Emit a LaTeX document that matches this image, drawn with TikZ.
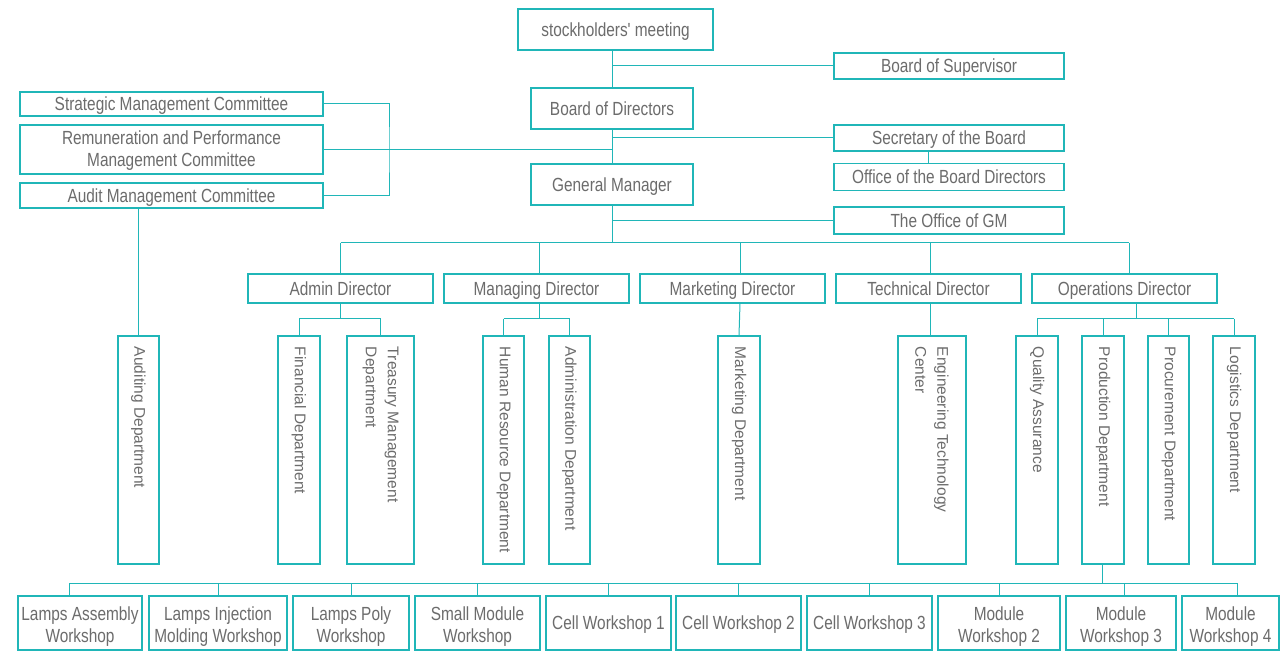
\documentclass[tikz,border=0pt]{standalone}
\usepackage{fontspec}
\setmainfont{Liberation Sans}[FakeStretch=0.81, Ligatures=TeXOff]
\newfontfamily\vfont{Liberation Sans}
\definecolor{teal1}{RGB}{32,182,184}
\definecolor{txtgray}{RGB}{108,108,108}
\begin{document}
\begin{tikzpicture}[x=1pt,y=-1pt,
  hbox/.style={draw=teal1, line width=1.4pt, fill=white, inner sep=0pt, align=center,
    text=txtgray, font=\fontsize{19}{22}\selectfont},
  sl/.style={text height=17pt, text depth=3.4pt},
  vbox/.style={draw=teal1, line width=1.4pt, fill=white, rotate=-90, inner xsep=11pt, inner ysep=0pt,
    minimum width=228pt, text width=206pt, align=flush left, text=txtgray,
    font=\vfont\fontsize{15.5}{22}\selectfont},
  conn/.style={draw=teal1, line width=1pt}]
\useasboundingbox (0,0) rectangle (1280,652);

% top chain
\node[hbox, sl, minimum width=195, minimum height=41] (sm) at (615.5,29.5) {stockholders' meeting};
\node[hbox, sl, minimum width=230, minimum height=26] (bos) at (949,66) {Board of Supervisor};
\node[hbox, sl, minimum width=162, minimum height=41] (bod) at (612,108.5) {Board of Directors};
\node[hbox, sl, minimum width=230, minimum height=26] (sec) at (949,138) {Secretary of the Board};
\node[hbox, sl, minimum width=230, minimum height=27] (obd) at (949,177) {Office of the Board Directors};
\node[hbox, sl, minimum width=162, minimum height=41] (gm) at (612,184.5) {General Manager};
\node[hbox, sl, minimum width=230, minimum height=27] (ogm) at (949,220.5) {The Office of GM};

% committees
\node[hbox, sl, minimum width=303, minimum height=24] (smc) at (171.5,104) {Strategic Management Committee};
\node[hbox, minimum width=303, minimum height=49] (rpm) at (171.5,149.5) {\rule{0pt}{16pt}Remuneration and Performance\\Management Committee};
\node[hbox, sl, minimum width=303, minimum height=25] (amc) at (171.5,195.5) {Audit Management Committee};

% directors
\node[hbox, sl, minimum width=185, minimum height=29] (ad) at (340.5,288.5) {Admin Director};
\node[hbox, sl, minimum width=185, minimum height=29] (md) at (536.5,288.5) {Managing Director};
\node[hbox, sl, minimum width=185, minimum height=29] (mk) at (732.5,288.5) {Marketing Director};
\node[hbox, sl, minimum width=185, minimum height=29] (td) at (928.5,288.5) {Technical Director};
\node[hbox, sl, minimum width=185, minimum height=29] (od) at (1124.5,288.5) {Operations Director};

% departments (vertical)
\node[vbox, minimum height=41] (aud) at (138.5,450) {Auditing Department};
\node[vbox, minimum height=42] (fin) at (299,450) {Financial Department};
\node[vbox, minimum height=67] (tre) at (380.5,450) {Treasury Management\\Department};
\node[vbox, minimum height=41] (hr) at (503.5,450) {Human Resource Department};
\node[vbox, minimum height=41] (adm) at (569.5,450) {Administration Department};
\node[vbox, minimum height=42] (mkd) at (739,450) {Marketing Department};
\node[vbox, minimum height=68] (eng) at (932,450) {Engineering Technology\\Center};
\node[vbox, minimum height=42] (qa) at (1037,450) {Quality Assurance};
\node[vbox, minimum height=42] (prod) at (1103,450) {Production Department};
\node[vbox, minimum height=41] (proc) at (1168.5,450) {Procurement Department};
\node[vbox, minimum height=42] (log) at (1234,450) {Logistics Department};

% workshops
\node[hbox, minimum width=124, minimum height=54] (w1) at (80,623) {\rule{0pt}{20pt}Lamps Assembly\\Workshop};
\node[hbox, minimum width=138, minimum height=54] (w2) at (218,623) {\rule{0pt}{20pt}Lamps Injection\\Molding Workshop};
\node[hbox, minimum width=116, minimum height=54] (w3) at (351,623) {\rule{0pt}{20pt}Lamps Poly\\Workshop};
\node[hbox, minimum width=125, minimum height=54] (w4) at (477.5,623) {\rule{0pt}{20pt}Small Module\\Workshop};
\node[hbox, sl, minimum width=125, minimum height=54] (w5) at (608.5,623) {Cell Workshop 1};
\node[hbox, sl, minimum width=125, minimum height=54] (w6) at (738.5,623) {Cell Workshop 2};
\node[hbox, sl, minimum width=125, minimum height=54] (w7) at (869.5,623) {Cell Workshop 3};
\node[hbox, minimum width=122, minimum height=54] (w8) at (999,623) {\rule{0pt}{20pt}Module\\Workshop 2};
\node[hbox, minimum width=110, minimum height=54] (w9) at (1121,623) {\rule{0pt}{20pt}Module\\Workshop 3};
\node[hbox, minimum width=97, minimum height=54] (w10) at (1230.5,623) {\rule{0pt}{20pt}Module\\Workshop 4};

% junction coordinates
\coordinate (bus) at (612,243);
\coordinate (br) at (389,150);
\coordinate (dmd) at (539,243);
\coordinate (dmk) at (740,243);
\coordinate (dtd) at (930,243);
\coordinate (dod) at (1129,243);
\coordinate (sub) at (0,319);
\coordinate (mdstem) at (539,303);
\coordinate (odstem) at (1136,303);
\coordinate (tdstem) at (930,303);
\coordinate (wbus) at (0,583);
\coordinate (w1d) at (69,583);
\coordinate (w10d) at (1237,583);
\coordinate (secd) at (928,151);

% top connectors
\draw[conn] (bod.north |- sm.south) -- (bod.north);
\draw[conn] (bod.north |- bos.west) -- (bos.west);
\draw[conn] (bod.south) -- (gm.north);
\draw[conn] (bod.south |- sec.west) -- (sec.west);
\draw[conn] (rpm.east) -- (bod.south |- rpm.east);
\draw[conn] (secd) -- (secd |- obd.north);
\draw[conn] (gm.south) -- (bus);
\draw[conn] (gm.south |- ogm.west) -- (ogm.west);
\draw[conn] (smc.east) -| (br) |- (amc.east);
\draw[conn] (aud.west |- amc.south) -- (aud.west);

% director bus
\draw[conn] (ad.north |- bus) -- (dod);
\draw[conn] (ad.north |- bus) -- (ad.north);
\draw[conn] (dmd) -- (dmd |- md.north);
\draw[conn] (dmk) -- (dmk |- mk.north);
\draw[conn] (dtd) -- (dtd |- td.north);
\draw[conn] (dod) -- (dod |- od.north);

% admin
\draw[conn] (ad.south) -- (ad.south |- sub);
\draw[conn] (fin.west |- sub) -- (tre.west |- sub);
\draw[conn] (fin.west |- sub) -- (fin.west);
\draw[conn] (tre.west |- sub) -- (tre.west);
% managing
\draw[conn] (mdstem) -- (mdstem |- sub);
\draw[conn] (hr.west |- sub) -- (adm.west |- sub);
\draw[conn] (hr.west |- sub) -- (hr.west);
\draw[conn] (adm.west |- sub) -- (adm.west);
% marketing, technical
\draw[conn] (dmk |- mk.south) -- (mkd.west);
\draw[conn] (tdstem) -- (tdstem |- eng.west);
% operations
\draw[conn] (odstem) -- (odstem |- sub);
\draw[conn] (qa.west |- sub) -- (log.west |- sub);
\draw[conn] (qa.west |- sub) -- (qa.west);
\draw[conn] (prod.west |- sub) -- (prod.west);
\draw[conn] (proc.west |- sub) -- (proc.west);
\draw[conn] (log.west |- sub) -- (log.west);

% workshops
\draw[conn] ([xshift=-1pt]prod.east) -- ([xshift=-1pt]prod.east |- wbus);
\draw[conn] (w1d) -- (w10d);
\draw[conn] (w1d) -- (w1d |- w1.north);
\foreach \w in {w2,w3,w4,w5,w6,w7,w8}{\draw[conn] (\w.north |- wbus) -- (\w.north);}
\draw[conn] ([xshift=3pt]w9.north |- wbus) -- ([xshift=3pt]w9.north);
\draw[conn] (w10d) -- (w10d |- w10.north);
\end{tikzpicture}
\end{document}
